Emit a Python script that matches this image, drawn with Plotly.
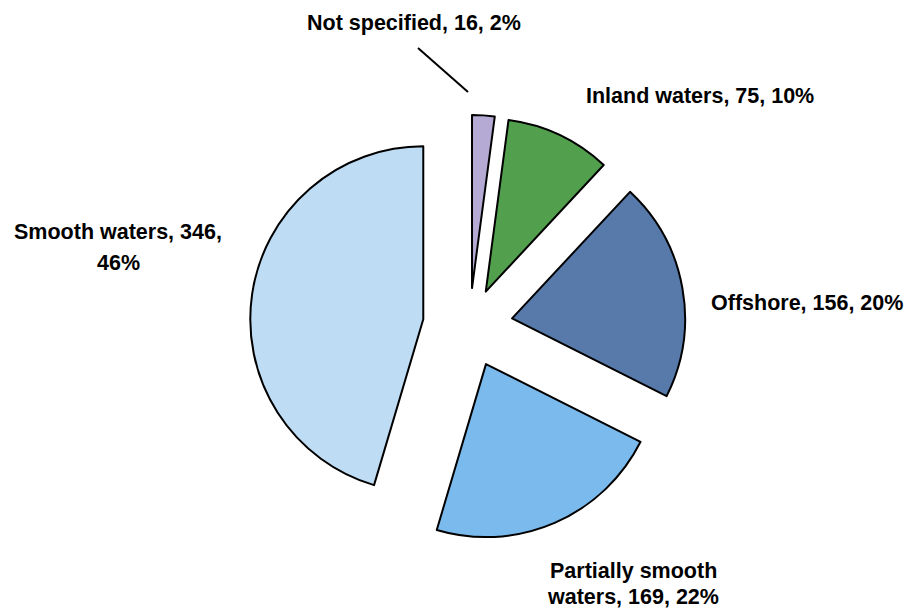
import plotly.graph_objects as go

labels = ["Not specified", "Inland waters", "Offshore", "Partially smooth waters", "Smooth waters"]
values = [16, 75, 156, 169, 346]
percents = [2, 10, 20, 22, 46]
colors = ["#b4aad4", "#52a04e", "#577aaa", "#7bbaec", "#bedcf4"]
pulls = [0.22, 0.22, 0.25, 0.24, 0.27]

# label text lines (built from data)
label_lines = [
    [f"{labels[0]}, {values[0]}, {percents[0]}%"],
    [f"{labels[1]}, {values[1]}, {percents[1]}%"],
    [f"{labels[2]}, {values[2]}, {percents[2]}%"],
    ["Partially smooth", f"waters, {values[3]}, {percents[3]}%"],
    [f"{labels[4]}, {values[4]},", f"{percents[4]}%"],
]
# label centre positions in pixels (x, y of first line) and line spacing
label_pos = [(414, 23), (700, 96), (807, 303), (633, 571), (118, 232)]
line_gap = [0, 0, 0, 26, 31]

W, H = 905, 609
cx, cy, half = 469.5, 326, 219.7

fig = go.Figure(go.Pie(
    labels=labels, values=values, sort=False, direction="clockwise", rotation=0,
    pull=pulls, marker=dict(colors=colors, line=dict(color="black", width=2)),
    textinfo="none", hoverinfo="label+value+percent", showlegend=False,
    domain=dict(x=[(cx - half) / W, (cx + half) / W], y=[(H - cy - half) / H, (H - cy + half) / H]),
))

annotations = []
for lines, (x, y), gap in zip(label_lines, label_pos, line_gap):
    for k, t in enumerate(lines):
        annotations.append(dict(
            text=f"<b>{t}</b>", x=x / W, y=1 - (y + k * gap) / H, xref="paper", yref="paper",
            showarrow=False, xanchor="center", yanchor="middle",
            font=dict(family="Liberation Sans, Arial, sans-serif", size=21.5, color="black"),
        ))

fig.add_shape(type="line", xref="paper", yref="paper",
              x0=418 / W, y0=1 - 48 / H, x1=468 / W, y1=1 - 92 / H,
              line=dict(color="black", width=2))

fig.update_layout(
    width=W, height=H, margin=dict(l=0, r=0, t=0, b=0),
    paper_bgcolor="white", plot_bgcolor="white", annotations=annotations,
)
fig.write_html("out.html")
